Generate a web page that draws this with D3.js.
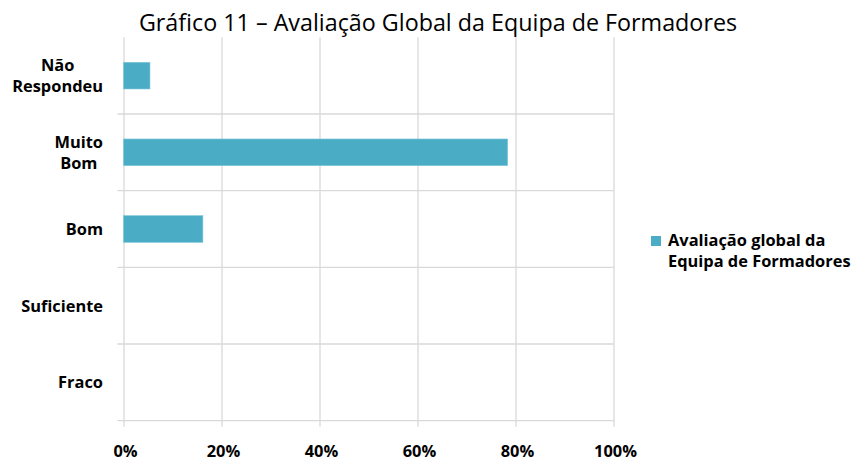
<!DOCTYPE html>
<html>
<head>
<meta charset="utf-8">
<script src="https://cdn.jsdelivr.net/npm/d3@7"></script>
<style>
  body { margin: 0; background: #fff; }
  svg { display: block; }
</style>
</head>
<body>
<div id="chart"></div>
<script>
// data (shares of answers)
const categories = ['Não Respondeu', 'Muito Bom', 'Bom', 'Suficiente', 'Fraco'];
const labelLines = [['Não', 'Respondeu'], ['Muito', 'Bom'], ['Bom'], ['Suficiente'], ['Fraco']];
const values = [0.054, 0.784, 0.162, 0, 0];
const xTicks = [0, 0.2, 0.4, 0.6, 0.8, 1];
const seriesName = ['Avaliação global da', 'Equipa de Formadores'];
const title = 'Gráfico 11 – Avaliação Global da Equipa de Formadores';

const W = 856, H = 462;
const margin = { top: 37.3, right: 242.5, bottom: 41.3, left: 123.5 };
const width = W - margin.left - margin.right;
const height = H - margin.top - margin.bottom;
const barColor = '#4bacc6';
const gridColor = '#d9d9d9';
const font = '"Open Sans", "Noto Sans", sans-serif';
const labelSize = 16.4;

const svg = d3.select('#chart').append('svg')
  .attr('width', W)
  .attr('height', H);

svg.append('text')
  .attr('x', 438)
  .attr('y', 31)
  .attr('text-anchor', 'middle')
  .attr('font-family', font)
  .attr('font-size', 23.3)
  .attr('fill', '#000')
  .text(title);

const g = svg.append('g')
  .attr('transform', `translate(${margin.left},${margin.top})`);

const x = d3.scaleLinear().domain([0, 1]).range([0, width]);
const y = d3.scaleBand().domain(categories).range([0, height]).paddingInner(0.652).paddingOuter(0.326);

// band edges for the horizontal grid (category axis ticks)
const step = height / categories.length;
const edges = d3.range(1, categories.length + 1).map(i => i * step);

// vertical gridlines with small ticks below the axis
g.append('g')
  .selectAll('line')
  .data(xTicks)
  .join('line')
  .attr('x1', d => Math.round(x(d)) + 0.5)
  .attr('x2', d => Math.round(x(d)) + 0.5)
  .attr('y1', 0)
  .attr('y2', height + 6)
  .attr('stroke', gridColor)
  .attr('stroke-width', 1.3);

g.append('g')
  .selectAll('line')
  .data(edges)
  .join('line')
  .attr('x1', -6)
  .attr('x2', width)
  .attr('y1', d => d)
  .attr('y2', d => d)
  .attr('stroke', gridColor)
  .attr('stroke-width', 1.3);

// bars
g.append('g')
  .selectAll('rect')
  .data(categories.map((c, i) => ({ c, v: values[i] })).filter(d => d.v > 0))
  .join('rect')
  .attr('x', x(0))
  .attr('y', d => y(d.c))
  .attr('width', d => x(d.v) - x(0))
  .attr('height', y.bandwidth())
  .attr('fill', barColor)
  .attr('stroke', '#7fc6d9')
  .attr('stroke-width', 0.6);

// x axis labels
const xAxis = d3.axisBottom(x)
  .tickValues(xTicks)
  .tickFormat(d3.format('.0%'))
  .tickSize(0)
  .tickPadding(0);

const xg = g.append('g')
  .attr('transform', `translate(0,${height})`)
  .call(xAxis);
xg.select('.domain').remove();
xg.selectAll('text')
  .attr('dy', null)
  .attr('y', 36)
  .attr('x', 1.5)
  .attr('font-family', font)
  .attr('font-size', labelSize)
  .attr('font-weight', 'bold')
  .attr('fill', '#000');

// category labels: each block right-aligned, lines centered within it
const labelRight = 103 - margin.left;
const lg = g.append('g')
  .attr('font-family', font)
  .attr('font-size', labelSize)
  .attr('font-weight', 'bold')
  .attr('fill', '#000');

categories.forEach((c, i) => {
  const lines = labelLines[i];
  const cy = y(c) + y.bandwidth() / 2;
  const t = lg.append('text').attr('text-anchor', 'middle');
  lines.forEach((ln, j) => {
    t.append('tspan')
      .attr('y', cy + 6 + (j - (lines.length - 1) / 2) * 21)
      .text(ln);
  });
  let maxW = 0;
  t.selectAll('tspan').each(function () { maxW = Math.max(maxW, this.getComputedTextLength()); });
  t.selectAll('tspan').attr('x', labelRight - maxW / 2);
});

// legend
const leg = svg.append('g').attr('transform', 'translate(651,236)');
leg.append('rect')
  .attr('width', 10)
  .attr('height', 10)
  .attr('fill', barColor);
leg.append('text')
  .attr('font-family', font)
  .attr('font-size', labelSize)
  .attr('font-weight', 'bold')
  .attr('fill', '#000')
  .selectAll('tspan')
  .data(seriesName)
  .join('tspan')
  .attr('x', 17)
  .attr('y', (d, i) => 10 + i * 21)
  .text(d => d);
</script>
</body>
</html>
